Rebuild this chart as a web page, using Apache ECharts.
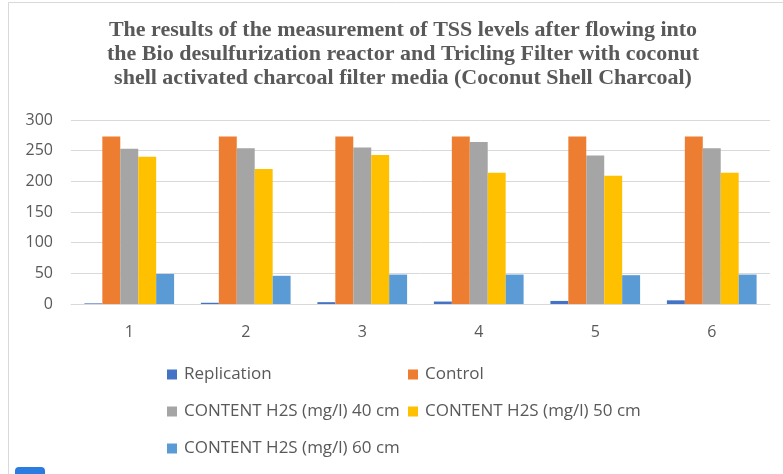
<!DOCTYPE html>
<html>
<head>
<meta charset="utf-8">
<script src="https://cdn.jsdelivr.net/npm/echarts@6/dist/echarts.min.js"></script>
<style>html,body{margin:0;padding:0;background:#fff}#c{width:783px;height:474px}</style>
</head>
<body>
<div id="c"></div>
<script>
const categories = ['1','2','3','4','5','6'];
const seriesNames = ['Replication','Control','CONTENT H2S (mg/l) 40 cm','CONTENT H2S (mg/l) 50 cm','CONTENT H2S (mg/l) 60 cm'];
const replication = [1,2,3,4,5,6];
const control = [273,273,273,273,273,273];
const h2s40 = [253,254,255,264,242,254];
const h2s50 = [240,220,243,214,209,214];
const h2s60 = [49,46,48,48,47,48];
const yTicks = [0,50,100,150,200,250,300];
const colors = ['#4472C4','#ED7D31','#A5A5A5','#FFC000','#5B9BD5'];

const values = [replication, control, h2s40, h2s50, h2s60];
const chart = echarts.init(document.getElementById('c'));
const txt = '#595959';
const legendPos = [[162,361],[403,361],[162,398],[403,398],[162,435]];
chart.setOption({
  animation:false,
  title:{
    text:'The results of the measurement of TSS levels after flowing into\nthe Bio desulfurization reactor and Tricling Filter with coconut\nshell activated charcoal filter media (Coconut Shell Charcoal)',
    left:398, textAlign:'center', top:13,
    textStyle:{fontFamily:'Liberation Serif', fontWeight:'bold', fontSize:22, color:txt, lineHeight:24}
  },
  legend: seriesNames.map((n,i)=>({
    data:[n], left:legendPos[i][0], top:legendPos[i][1],
    icon:'rect', itemWidth:10, itemHeight:10, itemGap:10,
    textStyle:{fontFamily:'Open Sans', fontSize:17, color:txt, padding:[0,0,0,2]}
  })),
  grid:{left:71, right:13, top:120, height:184, containLabel:false},
  xAxis:{
    type:'category', data:categories,
    axisLine:{lineStyle:{color:'#D9D9D9'}}, axisTick:{show:false},
    axisLabel:{color:txt, fontSize:16, fontFamily:'Open Sans', margin:20}
  },
  yAxis:{
    type:'value', min:0, max:300, interval:50,
    axisLine:{show:false}, axisTick:{show:false},
    splitLine:{lineStyle:{color:'#D9D9D9'}},
    axisLabel:{color:txt, fontSize:16, fontFamily:'Open Sans', margin:18,
      formatter:v=>yTicks.includes(v)?String(v):''}
  },
  series: seriesNames.map((n,i)=>({
    name:n, type:'bar', data:values[i], barGap:'0%', barCategoryGap:'23%',
    itemStyle:{color:colors[i]}
  })),
  graphic:[
    {type:'line', shape:{x1:8.5,y1:474,x2:8.5,y2:2.5}, style:{stroke:'#D9D9D9',lineWidth:1}, silent:true},
    {type:'line', shape:{x1:8.5,y1:2.5,x2:783,y2:2.5}, style:{stroke:'#D9D9D9',lineWidth:1}, silent:true},
    {type:'rect', shape:{x:15,y:467,width:30,height:12,r:4}, style:{fill:'#2B7CE0'}, silent:true}
  ]
});
</script>
</body>
</html>
